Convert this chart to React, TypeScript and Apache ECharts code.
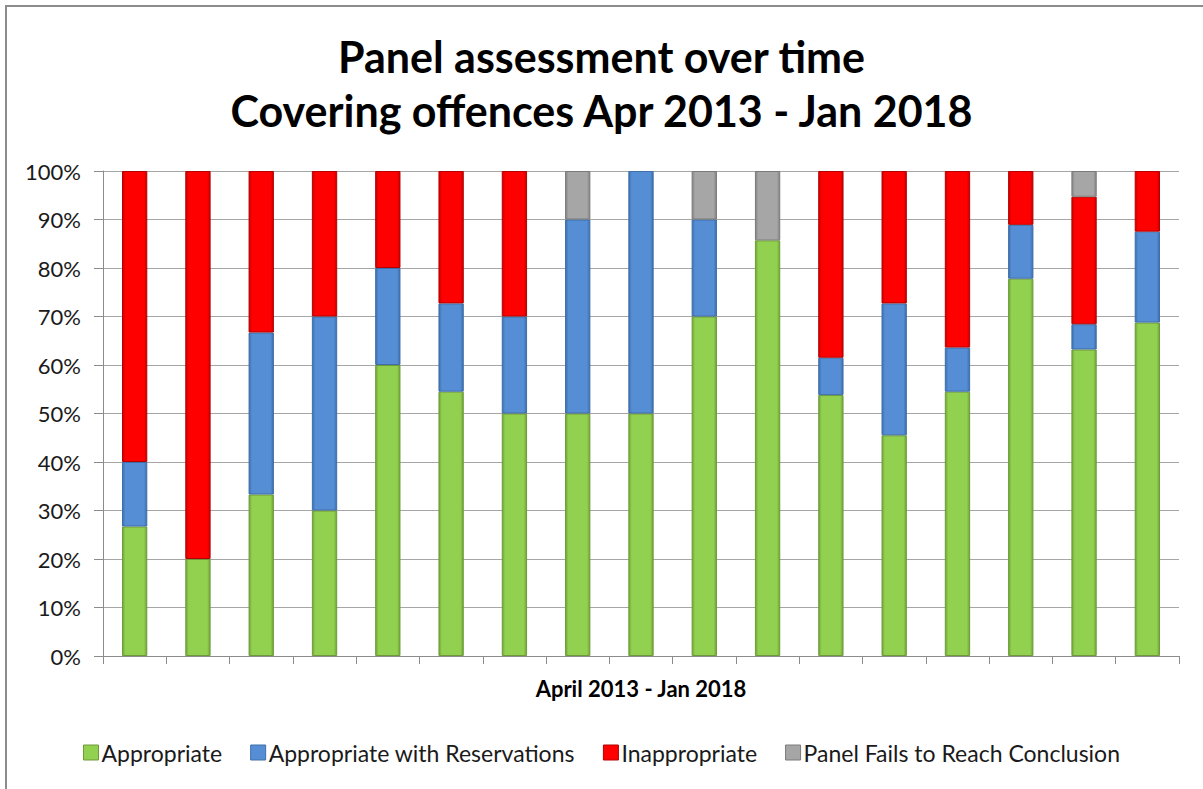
import React, { useEffect, useRef } from "react";
import * as echarts from "echarts";

// Reporting periods (17 panel sittings, Apr 2013 - Jan 2018)
const periods = [
  "P1", "P2", "P3", "P4", "P5", "P6", "P7", "P8", "P9",
  "P10", "P11", "P12", "P13", "P14", "P15", "P16", "P17",
];

// Share of cases per assessment outcome, in percent
const appropriate = [26.7, 20, 33.3, 30, 60, 54.5, 50, 50, 50, 70, 85.7, 53.8, 45.5, 54.5, 77.8, 63.2, 68.75];
const withReservations = [13.3, 0, 33.4, 40, 20, 18.2, 20, 40, 50, 20, 0, 7.7, 27.2, 9.1, 11.1, 5.2, 18.75];
const inappropriate = [60, 80, 33.3, 30, 20, 27.3, 30, 0, 0, 0, 0, 38.5, 27.3, 36.4, 11.1, 26.3, 12.5];
const noConclusion = [0, 0, 0, 0, 0, 0, 0, 10, 0, 10, 14.3, 0, 0, 0, 0, 5.3, 0];

const FONT = "Lato, 'Open Sans', sans-serif";

function bevel(base: string, edge: string) {
  return new echarts.graphic.LinearGradient(0, 0, 1, 0, [
    { offset: 0, color: edge },
    { offset: 0.12, color: base },
    { offset: 0.88, color: base },
    { offset: 1, color: edge },
  ]);
}

const seriesDefs = [
  { name: "Appropriate", data: appropriate, base: "#92D050", edge: "#6fa535", border: "#6e9a3c" },
  { name: "Appropriate with Reservations", data: withReservations, base: "#558ED5", edge: "#3c6fae", border: "#3f6ea8" },
  { name: "Inappropriate", data: inappropriate, base: "#FF0000", edge: "#c80000", border: "#b40000" },
  { name: "Panel Fails to Reach Conclusion", data: noConclusion, base: "#A6A6A6", edge: "#828282", border: "#7a7a7a" },
];

export default function App() {
  const ref = useRef<HTMLDivElement>(null);

  useEffect(() => {
    if (!ref.current) return;
    const chart = echarts.init(ref.current, undefined, { renderer: "svg" });
    chart.setOption({
      animation: false,
      backgroundColor: "#ffffff",
      title: {
        text: "Panel assessment over time\nCovering offences Apr 2013 - Jan 2018",
        left: "center",
        top: 24,
        textStyle: {
          fontFamily: FONT,
          fontWeight: "bold",
          fontSize: 43,
          lineHeight: 54,
          color: "#000000",
        },
      },
      graphic: [
        {
          type: "rect",
          shape: { x: 6, y: 6, width: 1215, height: 810 },
          style: { fill: "none", stroke: "#8c8c8c", lineWidth: 2 },
          silent: true,
        },
      ],
      legend: {
        bottom: 20,
        left: "center",
        itemWidth: 15,
        itemHeight: 15,
        itemGap: 28,
        textStyle: { fontFamily: FONT, fontSize: 23, color: "#1a1a1a", padding: [0, 0, 0, -2] },
        data: seriesDefs.map((s) => ({
          name: s.name,
          icon: "rect",
          itemStyle: { color: s.base, borderColor: s.border, borderWidth: 1 },
        })),
      },
      grid: { left: 103, right: 24, top: 171, bottom: 133 },
      xAxis: {
        type: "category",
        data: periods,
        name: "April 2013 - Jan 2018",
        nameLocation: "middle",
        nameGap: 21,
        nameTextStyle: { fontFamily: FONT, fontWeight: "bold", fontSize: 22, color: "#000" },
        axisLine: { lineStyle: { color: "#8c8c8c", width: 1 } },
        axisTick: { show: true, alignWithLabel: false, length: 8, lineStyle: { color: "#8c8c8c" } },
        axisLabel: { show: false },
      },
      yAxis: {
        type: "value",
        min: 0,
        max: 100,
        interval: 10,
        axisLine: { show: true, lineStyle: { color: "#8c8c8c" } },
        axisTick: { show: true, length: 9, lineStyle: { color: "#8c8c8c" } },
        axisLabel: {
          fontFamily: FONT,
          fontSize: 22,
          color: "#1a1a1a",
          margin: 22,
          formatter: (v: number) => `${v}%`,
        },
        splitLine: { lineStyle: { color: "#a6a6a6", width: 1 } },
      },
      series: seriesDefs.map((s) => ({
        name: s.name,
        type: "bar",
        stack: "total",
        barWidth: "40%",
        // empty segments are left out so they draw no outline
        data: s.data.map((v) => (v > 0 ? v : null)),
        itemStyle: {
          color: bevel(s.base, s.edge),
          borderColor: s.border,
          borderWidth: 1,
        },
        emphasis: { disabled: true },
      })),
    });
    return () => chart.dispose();
  }, []);

  return (
    <div
      ref={ref}
      style={{ position: "fixed", left: 0, top: 0, width: 1203, height: 789 }}
    />
  );
}
